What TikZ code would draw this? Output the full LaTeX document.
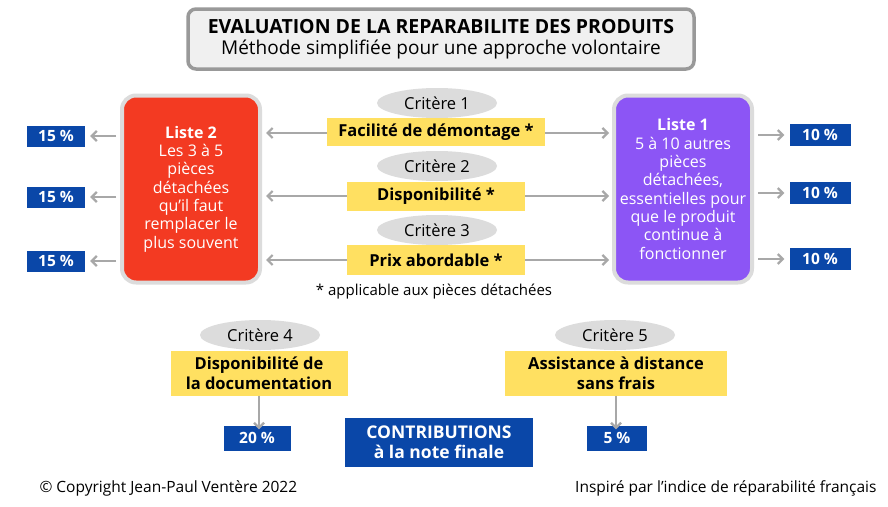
\documentclass[tikz,border=0pt]{standalone}
\usepackage{fontspec}
\setmainfont{Open Sans}
\usetikzlibrary{arrows.meta,shapes.geometric}
\definecolor{yel}{HTML}{FFE061}
\definecolor{blu}{HTML}{0A47A8}
\definecolor{gr}{HTML}{DCDCDC}
\definecolor{ar}{HTML}{A8A8A8}
\definecolor{red2}{HTML}{F33A22}
\definecolor{pur}{HTML}{8C55F5}
\tikzset{
 yb/.style={fill=yel,inner sep=0pt,font=\bfseries\fontsize{16.5}{20}\selectfont,align=center},
 bb/.style={fill=blu,text=white,inner sep=0pt,font=\bfseries\fontsize{15.5}{18}\selectfont,align=center},
 ov/.style={fill=gr,ellipse,inner sep=0pt,font=\fontsize{16.5}{18}\selectfont},
 lst/.style={rounded corners=14pt,draw=gr,line width=4pt,text=white,align=center,inner sep=0pt,font=\fontsize{16}{18.3}\selectfont},
 arr/.style={draw=ar,line width=2.2pt,-{Straight Barb[length=5pt,width=10pt]}},
}
\begin{document}
\begin{tikzpicture}[x=1pt,y=-1pt]
\useasboundingbox (0,0) rectangle (888,506);
\fill[white] (0,0) rectangle (888,506);
% title
\node[draw=gray!80,line width=3.5pt,fill=gray!12,rounded corners=8pt,minimum width=506pt,minimum height=60pt] (title) at (441,39) {};
\node[font=\fontsize{19.5}{23}\selectfont\bfseries] (t1) at (441,27) {EVALUATION DE LA REPARABILITE DES PRODUITS};
\node[font=\fontsize{19}{21}\selectfont] (t2) at (441,50) {Méthode simplifiée pour une approche volontaire};
% lists
\node[lst,fill=red2,minimum width=138pt,minimum height=187pt] (l2) at (191,189)
 {\textbf{Liste 2}\\Les 3 à 5\\pièces\\détachées\\qu'il faut\\remplacer le\\plus souvent};
\node[lst,fill=pur,minimum width=138pt,minimum height=187pt] (l1) at (683,189)
 {\textbf{Liste 1}\\5 à 10 autres\\pièces\\détachées,\\essentielles pour\\que le produit\\continue à\\fonctionner};
% criteria
\node[ov,minimum width=120pt,minimum height=30pt] (o1) at (437,103) {Critère 1};
\node[yb,minimum width=218pt,minimum height=28pt] (c1) at (436,132) {Facilité de démontage *};
\node[ov,minimum width=120pt,minimum height=30pt] (o2) at (437,166) {Critère 2};
\node[yb,minimum width=178pt,minimum height=29pt] (c2) at (436,196) {Disponibilité *};
\node[ov,minimum width=120pt,minimum height=30pt] (o3) at (437,230) {Critère 3};
\node[yb,minimum width=178pt,minimum height=30pt] (c3) at (436,260) {Prix abordable *};
\node[font=\fontsize{15}{17}\selectfont] (note) at (434,292) {* applicable aux pièces détachées};
% blue boxes
\node[bb,minimum width=58pt,minimum height=21pt] (La) at (56,136) {15 \%};
\node[bb,minimum width=58pt,minimum height=21pt] (Lb) at (56,197) {15 \%};
\node[bb,minimum width=58pt,minimum height=21pt] (Lc) at (56,261) {15 \%};
\foreach \n in {La,Lb,Lc}{\draw[arr] ([xshift=-4pt]l2.west|-\n) -- ([xshift=5pt]\n.east);}
\node[bb,minimum width=61pt,minimum height=22pt] (Ra) at (820,135) {10 \%};
\node[bb,minimum width=61pt,minimum height=22pt] (Rb) at (820,193) {10 \%};
\node[bb,minimum width=61pt,minimum height=22pt] (Rc) at (820,259) {10 \%};
\foreach \n in {Ra,Rb,Rc}{\draw[arr] ([xshift=4pt]l1.east|-\n) -- ([xshift=-5pt]\n.west);}
% middle arrows
\foreach \c/\y in {c1/133,c2/196,c3/260}{
 \draw[arr] (\c.west|-0,\y) -- (266,\y);
 \draw[arr] (\c.east|-0,\y) -- (609,\y);
}
% criteria 4 and 5
\node[ov,minimum width=120pt,minimum height=30pt] (o4) at (260,335) {Critère 4};
\node[yb,minimum width=177pt,minimum height=45pt] (c4) at (259,373) {Disponibilité de\\la documentation};
\node[bb,minimum width=67pt,minimum height=25pt] (p4) at (257,438) {20 \%};
\draw[arr] (c4.south-|259,0) -- ([yshift=-4pt]p4.north-|259,0);
\node[ov,minimum width=120pt,minimum height=30pt] (o5) at (615,335) {Critère 5};
\node[yb,minimum width=222pt,minimum height=45pt] (c5) at (616,373) {Assistance à distance\\sans frais};
\node[bb,minimum width=60pt,minimum height=25pt] (p5) at (617,438) {5 \%};
\draw[arr] (c5.south-|616,0) -- ([yshift=-4pt]p5.north-|616,0);
\node[bb,minimum width=188pt,minimum height=49pt,font=\bfseries\fontsize{17.5}{20}\selectfont] (contrib) at (439,442) {CONTRIBUTIONS\\à la note finale};
\node[anchor=west,font=\fontsize{15.5}{18}\selectfont] (copy) at (36,488) {© Copyright Jean-Paul Ventère 2022};
\node[anchor=east,font=\fontsize{15.5}{18}\selectfont] (insp) at (880,488) {Inspiré par l'indice de réparabilité français};
\end{tikzpicture}
\end{document}
